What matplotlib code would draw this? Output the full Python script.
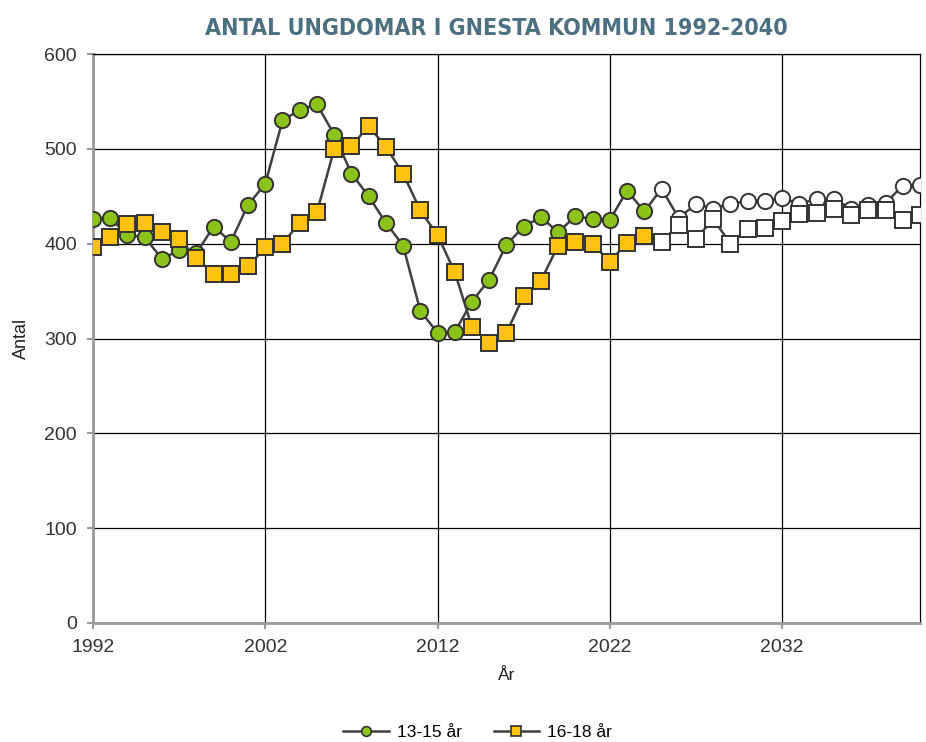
import matplotlib
matplotlib.use("Agg")
import matplotlib.pyplot as plt
from matplotlib.lines import Line2D

years = list(range(1992, 2041))
last_actual = 2024
age_13_15 = [426, 427, 409, 407, 384, 393, 390, 418, 402, 441, 463, 530, 541, 547, 515, 474,
             450, 422, 398, 329, 306, 307, 339, 362, 399, 418, 428, 412, 429, 426, 425, 456,
             434, 458, 427, 442, 437, 442, 445, 445, 448, 442, 447, 447, 437, 441, 443, 461, 462]
age_16_18 = [396, 407, 421, 422, 412, 405, 385, 368, 368, 376, 396, 400, 422, 433, 500, 503,
             524, 502, 474, 435, 409, 370, 312, 295, 306, 345, 361, 398, 402, 400, 381, 401,
             408, 402, 420, 405, 426, 400, 416, 417, 424, 431, 432, 437, 430, 436, 436, 425, 430]
series_names = ["13-15 år", "16-18 år"]
x_ticks = [1992, 2002, 2012, 2022, 2032]
y_ticks = [0, 100, 200, 300, 400, 500, 600]
title = "ANTAL UNGDOMAR I GNESTA KOMMUN 1992-2040"

plt.rcParams['font.family'] = ['Liberation Sans', 'DejaVu Sans']

fig = plt.figure(figsize=(9.26, 7.42), dpi=100)
ax = fig.add_axes([0.1004, 0.1604, 0.8931, 0.7668])

line_col = "#404040"
edge_col = "#333333"
styles = [("o", "#8cc21a"), ("s", "#ffc20e")]

for vals, (mk, col), z in zip([age_13_15, age_16_18], styles, [3, 5]):
    ax.plot(years, vals, color=line_col, lw=1.8, zorder=z)
    xa = [y for y in years if y <= last_actual]
    va = [v for y, v in zip(years, vals) if y <= last_actual]
    xf = [y for y in years if y > last_actual]
    vf = [v for y, v in zip(years, vals) if y > last_actual]
    ax.plot(xa, va, ls="none", marker=mk, ms=11, mfc=col, mec=edge_col, mew=1.4, zorder=z + 0.5)
    ax.plot(xf, vf, ls="none", marker=mk, ms=11, mfc="white", mec=edge_col, mew=1.4, zorder=z + 0.5)

ax.set_xlim(1992, 2040)
ax.set_ylim(0, 600)
ax.set_xticks(x_ticks)
ax.set_yticks(y_ticks)
ax.grid(True, color="black", lw=0.9, zorder=1)
ax.set_axisbelow(True)

for s in ["left", "bottom"]:
    ax.spines[s].set_color("#999999")
    ax.spines[s].set_linewidth(2)
for s in ["top", "right"]:
    ax.spines[s].set_color("black")
    ax.spines[s].set_linewidth(0.9)

ax.tick_params(axis="both", colors="#999999", length=4.5, width=1.5, labelcolor="#333333", labelsize=14)
ax.tick_params(axis="x", pad=7)
ax.tick_params(axis="y", pad=7)
ax.set_xlabel("År", fontsize=12.5, color="#222222", labelpad=9)
ax.set_ylabel("Antal", fontsize=13, color="#222222", labelpad=10)

fig.text(0.536, 0.962, title, ha="center", va="center", fontsize=16.7, color="#4d7080",
         family=['DejaVu Sans'], fontstretch='condensed', fontweight='bold')

handles = [Line2D([0], [0], color=line_col, lw=1.8, marker=mk, ms=7, mfc=col, mec=edge_col, mew=1.2)
           for mk, col in styles]
fig.legend(handles, series_names, loc="center", bbox_to_anchor=(0.516, 0.0125), ncol=2,
           frameon=False, fontsize=12.5, handlelength=2.6, columnspacing=1.8, handletextpad=0.5)

fig.savefig("out.png", dpi=100)
